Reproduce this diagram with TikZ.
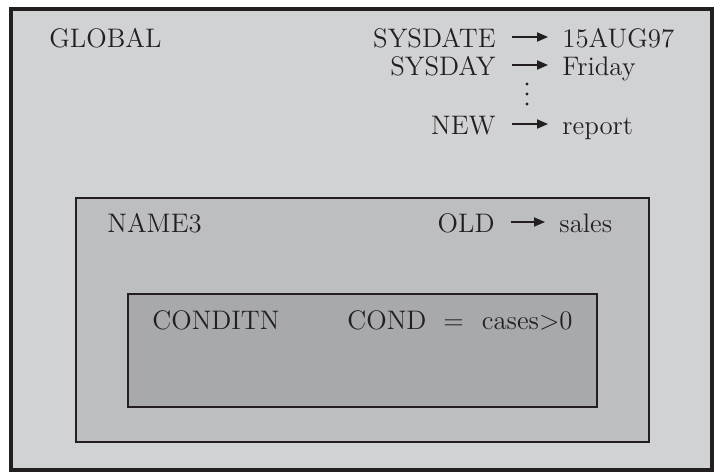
\documentclass[tikz,border=0pt]{standalone}
\usepackage{tikz}
\usetikzlibrary{arrows.meta}

\definecolor{globalgray}{RGB}{209,210,212}
\definecolor{namegray}{RGB}{189,190,193}
\definecolor{condgray}{RGB}{168,169,172}
\definecolor{edgeblack}{RGB}{35,31,32}

\begin{document}
\begin{tikzpicture}[
    x=0.5pt, y=-0.5pt,
    every node/.style={inner sep=0pt,font=\fontsize{13.4}{15}\selectfont,text=edgeblack},
    scopebox/.style={draw=edgeblack},
    varname/.style={anchor=base east,text height=10pt,text depth=0pt},
    varval/.style={anchor=base west,text height=10pt,text depth=0pt},
    maparrow/.style={draw=edgeblack,line width=0.65pt,-{Triangle[length=5.5pt,width=4.6pt]},shorten <=8pt,shorten >=7pt}
  ]
  \useasboundingbox (0,0) rectangle (715,472);
  % nested symbol tables
  \draw[scopebox,fill=globalgray,line width=2pt] (11,9) rectangle (712,470);
  \draw[scopebox,fill=namegray,line width=1.3pt] (76,198) rectangle (649,442);
  \draw[scopebox,fill=condgray,line width=0.6pt] (128,294) rectangle (597,407);

  \node[anchor=base west] (global) at (49,47) {GLOBAL};
  \node[varname] (sysdate) at (496,47) {SYSDATE};
  \node[varval] (sysdateval) at (562,47) {15AUG97};
  \node[varname] (sysday) at (496,75) {SYSDAY};
  \node[varval] (sysdayval) at (562,75) {Friday};
  \foreach \y in {84,94,104}
    \fill[edgeblack] (527,\y) circle (1.6);
  \node[varname] (new) at (496,134) {NEW};
  \node[varval] (newval) at (562,134) {report};

  \node[anchor=base west] (name3) at (107,232) {NAME3};
  \node[varname] (old) at (495,232) {OLD};
  \node[varval] (oldval) at (559,232) {sales};

  \node[anchor=base west] (conditn) at (152,329) {CONDITN};
  \node[anchor=base west] (cond) at (347,329) {COND\hspace{8.5pt}=\hspace{9pt}cases>0};

  \foreach \k/\v in {sysdate/sysdateval,sysday/sysdayval,new/newval,old/oldval}
    \draw[maparrow] (\k) -- (\v);
\end{tikzpicture}
\end{document}
